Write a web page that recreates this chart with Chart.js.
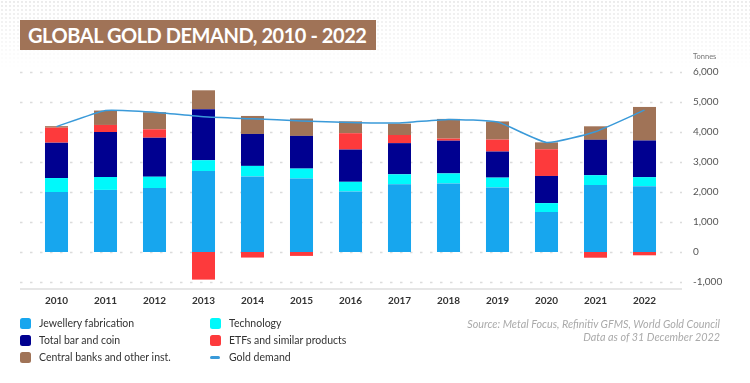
<!DOCTYPE html>
<html><head><meta charset="utf-8">
<script src="https://cdn.jsdelivr.net/npm/chart.js@4.4.1/dist/chart.umd.min.js"></script>
<style>
html,body{margin:0;padding:0;background:#fff;}
#wrap{position:relative;width:750px;height:383px;overflow:hidden;font-family:Lato,"Open Sans",sans-serif;background:#fff;}
#bgdots{position:absolute;left:0;top:0;width:750px;height:70px;background-image:radial-gradient(circle,#ececec 0.8px,transparent 1.1px);background-size:4px 4px;-webkit-mask-image:linear-gradient(to bottom,rgba(0,0,0,1),rgba(0,0,0,0));mask-image:linear-gradient(to bottom,rgba(0,0,0,1),rgba(0,0,0,0));}
canvas{position:absolute;left:0;top:0;}
#title{position:absolute;left:20px;top:20px;width:356px;height:30px;background:#a07357;}
#titleText{position:absolute;left:28px;top:20px;height:30px;color:#fff;font-weight:700;font-size:20px;line-height:31px;white-space:nowrap;}
#unit{position:absolute;left:693px;top:52px;font-size:7.5px;color:#777;}
.lg{position:absolute;font-size:10.5px;color:#333;white-space:nowrap;line-height:12px;}
.mk{position:absolute;width:11px;height:11px;border-radius:2.5px;}
.src{position:absolute;font-size:10.8px;font-style:italic;color:#aaa;white-space:nowrap;}
</style></head>
<body>
<div id="wrap">
<div id="bgdots"></div>
<canvas id="c" width="750" height="383"></canvas>
<div id="title"></div>
<div id="titleText">GLOBAL GOLD DEMAND, 2010 - 2022</div>
<div id="unit">Tonnes</div>
<div id="legend"></div>
<div class="src" id="src1" style="top:317px">Source: Metal Focus, Refinitiv GFMS, World Gold Council</div>
<div class="src" id="src2" style="top:330px">Data as of 31 December 2022</div>
</div>
<script>
const years = ['2010','2011','2012','2013','2014','2015','2016','2017','2018','2019','2020','2021','2022'];
const jewellery = [2000, 2070, 2130, 2700, 2520, 2450, 2020, 2257, 2285, 2152, 1330, 2230, 2195];
const technology = [465, 430, 380, 360, 350, 330, 320, 333, 335, 327, 300, 330, 300];
const barCoin = [1180, 1500, 1300, 1700, 1065, 1090, 1075, 1039, 1091, 870, 905, 1180, 1220];
const etfs = [500, 235, 280, -920, -185, -130, 545, 271, 69, 398, 890, -190, -110];
const centralBanks = [50, 480, 570, 630, 600, 580, 395, 379, 656, 605, 230, 450, 1120];
const goldDemand = [4180, 4720, 4660, 4510, 4440, 4370, 4320, 4300, 4420, 4330, 3650, 4010, 4730];
const yTicks = [-1000, 0, 1000, 2000, 3000, 4000, 5000, 6000];

const colors = {
  jewellery:'#17a6ee', technology:'#00f9fb', barCoin:'#000090', etfs:'#fd3a3c', central:'#a07357', line:'#3a9ad9'
};

// fit title text to width ~339px
(function(){
  const t = document.getElementById('titleText');
  const w = t.getBoundingClientRect().width;
  const ls = (339 - w) / (t.textContent.length - 1);
  t.style.letterSpacing = ls.toFixed(2) + 'px';
  // right-align source lines at x=720
  ['src1','src2'].forEach(id=>{
    const e = document.getElementById(id);
    const ew = e.getBoundingClientRect().width;
    e.style.left = (720 - ew) + 'px';
  });
})();

// legend
const legendItems = [
  {t:'Jewellery fabrication', c:colors.jewellery, x:20, y:317},
  {t:'Total bar and coin', c:colors.barCoin, x:20, y:334},
  {t:'Central banks and other inst.', c:colors.central, x:20, y:351},
  {t:'Technology', c:colors.technology, x:210, y:317},
  {t:'ETFs and similar products', c:colors.etfs, x:210, y:334},
  {t:'Gold demand', c:colors.line, x:210, y:351, line:true}
];
const lg = document.getElementById('legend');
legendItems.forEach(it=>{
  const m = document.createElement('div');
  m.className='mk';
  m.style.left = it.x+'px';
  if(it.line){ m.style.top=(it.y+5)+'px'; m.style.height='3px'; m.style.width='10px'; m.style.borderRadius='2px'; }
  else m.style.top = (it.y+1)+'px';
  m.style.background = it.c;
  lg.appendChild(m);
  const t = document.createElement('div');
  t.className='lg'; t.textContent=it.t;
  t.style.left=(it.x+19)+'px'; t.style.top=it.y+'px';
  lg.appendChild(t);
});

const gridPlugin = {
  id:'customGrid',
  beforeDatasetsDraw(chart){
    const ctx = chart.ctx, y = chart.scales.y, ca = chart.chartArea;
    ctx.save();
    ctx.strokeStyle = '#dcdcdc';
    ctx.lineWidth = 1.5;
    ctx.setLineDash([2.5, 7.5]);
    yTicks.forEach(v=>{
      const py = Math.round(y.getPixelForValue(v))+0.5;
      ctx.beginPath(); ctx.moveTo(20, py); ctx.lineTo(682, py); ctx.stroke();
    });
    ctx.setLineDash([]);
    ctx.strokeStyle = '#e6e6e6';
    ctx.lineWidth = 2;
    ctx.beginPath(); ctx.moveTo(20, ca.bottom); ctx.lineTo(682, ca.bottom); ctx.stroke();
    ctx.restore();
  }
};

const barDs = (label, data, color) => ({type:'bar', label, data, backgroundColor:color, borderWidth:0, order:1, barPercentage:0.47, categoryPercentage:1});

new Chart(document.getElementById('c'), {
  data:{
    labels: years,
    datasets:[
      {type:'line', label:'Gold demand', data:goldDemand, borderColor:colors.line, borderWidth:1.5, pointRadius:0, tension:0.15, fill:false, order:0},
      barDs('Jewellery fabrication', jewellery, colors.jewellery),
      barDs('Technology', technology, colors.technology),
      barDs('Total bar and coin', barCoin, colors.barCoin),
      barDs('ETFs and similar products', etfs, colors.etfs),
      barDs('Central banks and other inst.', centralBanks, colors.central)
    ]
  },
  options:{
    responsive:false,
    animation:false,
    layout:{padding:{left:32, top:72, right:0, bottom:74}},
    plugins:{legend:{display:false}, tooltip:{enabled:false}},
    scales:{
      x:{
        stacked:true,
        grid:{display:false, drawTicks:false},
        border:{display:false},
        ticks:{color:'#333', font:{family:'Lato', size:10, weight:'bold'}, padding:6, maxRotation:0},
        afterFit(s){ s.height = 20; }
      },
      y:{
        stacked:true,
        position:'right',
        min:-1233, max:6000,
        afterBuildTicks(s){ s.ticks = yTicks.map(v=>({value:v})); },
        grid:{display:false, drawTicks:false},
        border:{display:false},
        ticks:{color:'#555', font:{family:'Lato', size:10}, padding:24, callback:v=>v.toLocaleString('en-US')},
        afterFit(s){ s.width = 81; }
      }
    }
  },
  plugins:[gridPlugin]
});
</script>
</body></html>
